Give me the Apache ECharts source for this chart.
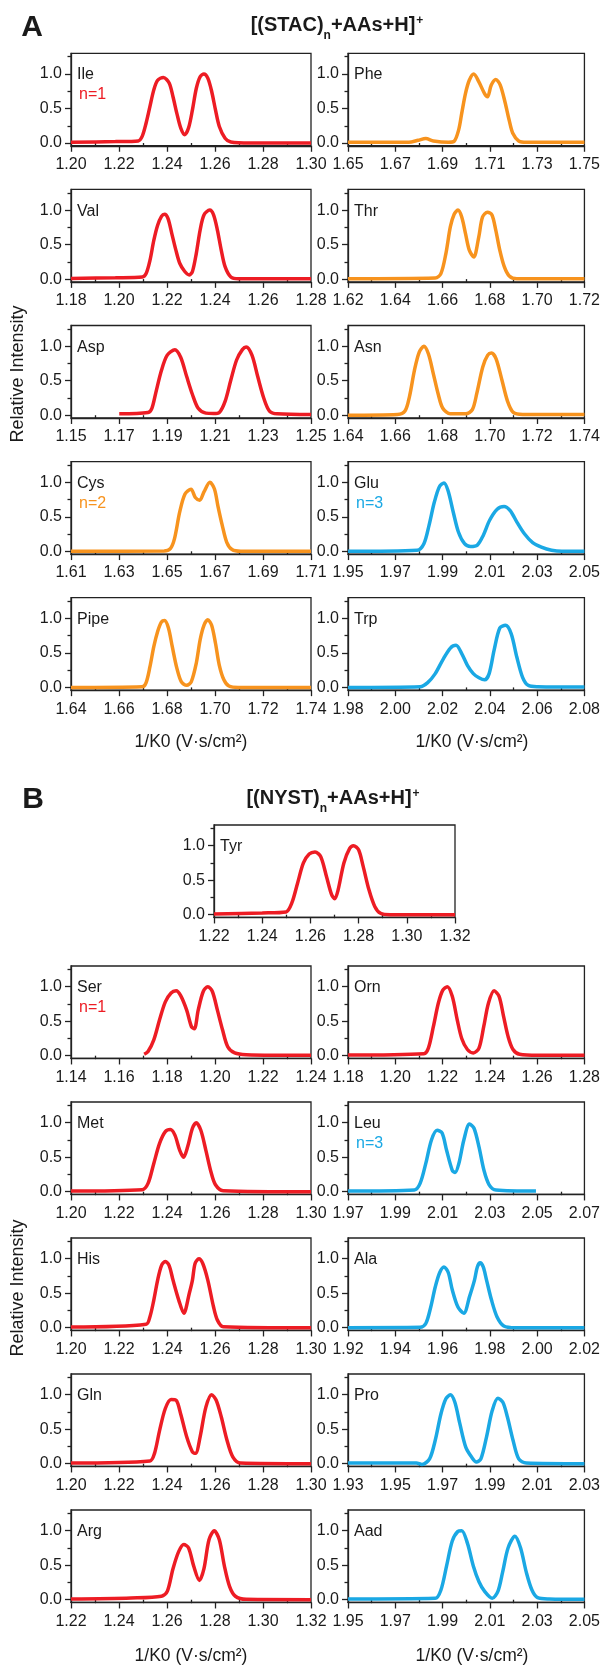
<!DOCTYPE html>
<html>
<head>
<meta charset="utf-8">
<script src="https://cdn.jsdelivr.net/npm/echarts@6/dist/echarts.min.js"></script>
<style>
html,body{margin:0;padding:0;background:#fff;}
#c{width:603px;height:1665px;}
</style>
</head>
<body>
<div id="c"></div>
<script>
// ---------- DATA (x = 1/K0, y = relative intensity) ----------
const ile = [[1.200,0.01],[1.2185,0.02],[1.228,0.03],[1.2297,0.10],[1.2313,0.29],[1.2329,0.53],[1.2345,0.77],[1.2361,0.91],[1.2385,0.95],[1.2409,0.87],[1.2425,0.67],[1.2441,0.43],[1.2457,0.22],[1.2474,0.12],[1.249,0.22],[1.2506,0.48],[1.2522,0.79],[1.2538,0.96],[1.2554,1.0],[1.257,0.94],[1.2586,0.75],[1.2602,0.48],[1.2618,0.24],[1.2642,0.07],[1.2666,0.015],[1.2746,0.0],[1.30,0.0]];
const phe = [[1.65,0.01],[1.6757,0.01],[1.6797,0.04],[1.6829,0.065],[1.6861,0.03],[1.6925,0.01],[1.6949,0.025],[1.6968,0.19],[1.6981,0.43],[1.6997,0.72],[1.7013,0.91],[1.7032,1.0],[1.7053,0.89],[1.7077,0.72],[1.709,0.67],[1.7106,0.84],[1.7125,0.92],[1.7144,0.84],[1.7165,0.58],[1.7181,0.34],[1.7197,0.14],[1.7222,0.03],[1.7254,0.01],[1.75,0.01]];
const val = [[1.18,0.01],[1.1985,0.02],[1.2097,0.03],[1.2113,0.08],[1.2129,0.27],[1.2145,0.56],[1.2161,0.78],[1.2177,0.91],[1.219,0.94],[1.2204,0.88],[1.222,0.66],[1.2237,0.42],[1.2253,0.23],[1.2274,0.11],[1.2293,0.06],[1.2306,0.11],[1.2322,0.37],[1.2338,0.71],[1.2354,0.93],[1.2378,1.0],[1.2394,0.93],[1.241,0.71],[1.2426,0.42],[1.2442,0.18],[1.2466,0.03],[1.2498,0.005],[1.28,0.005]];
const thr = [[1.62,0.005],[1.6569,0.015],[1.6593,0.08],[1.6614,0.37],[1.6633,0.76],[1.6649,0.94],[1.6665,1.0],[1.6681,0.90],[1.6697,0.66],[1.6713,0.42],[1.6732,0.32],[1.6753,0.61],[1.6769,0.90],[1.679,0.97],[1.6809,0.93],[1.6825,0.71],[1.6842,0.42],[1.6861,0.18],[1.6882,0.045],[1.6914,0.005],[1.72,0.005]];
const asp = [[1.1701,0.02],[1.1821,0.04],[1.1837,0.10],[1.1853,0.32],[1.1877,0.65],[1.1901,0.87],[1.1933,0.95],[1.1957,0.84],[1.1982,0.56],[1.2006,0.30],[1.203,0.10],[1.2062,0.03],[1.2094,0.025],[1.2118,0.04],[1.2142,0.20],[1.2166,0.51],[1.219,0.80],[1.2214,0.95],[1.223,0.99],[1.2254,0.87],[1.2278,0.56],[1.2303,0.25],[1.2327,0.06],[1.2359,0.02],[1.25,0.01]];
const asn = [[1.64,0.0],[1.6609,0.01],[1.6641,0.06],[1.666,0.27],[1.6681,0.65],[1.6701,0.91],[1.6721,1.0],[1.674,0.89],[1.6761,0.60],[1.6782,0.30],[1.6801,0.10],[1.6833,0.02],[1.6898,0.02],[1.6926,0.08],[1.6945,0.32],[1.697,0.70],[1.6991,0.87],[1.7007,0.90],[1.7026,0.82],[1.7051,0.51],[1.7075,0.20],[1.7099,0.04],[1.7139,0.01],[1.74,0.01]];
const cys = [[1.61,0.0],[1.6488,0.005],[1.6514,0.04],[1.6531,0.18],[1.6553,0.57],[1.6575,0.83],[1.66,0.90],[1.6618,0.78],[1.6636,0.74],[1.6654,0.86],[1.6679,1.0],[1.6698,0.90],[1.6712,0.66],[1.673,0.38],[1.6749,0.13],[1.6771,0.025],[1.6807,0.0],[1.71,0.0]];
const glu = [[1.95,0.0],[1.9792,0.015],[1.9821,0.11],[1.9843,0.38],[1.9865,0.71],[1.9887,0.94],[1.9906,0.99],[1.9923,0.88],[1.9945,0.57],[1.9967,0.28],[1.9993,0.11],[2.0018,0.07],[2.0047,0.09],[2.0072,0.23],[2.0099,0.45],[2.0131,0.61],[2.016,0.65],[2.0186,0.59],[2.0215,0.42],[2.0247,0.25],[2.0281,0.125],[2.0318,0.06],[2.0361,0.015],[2.0405,0.0],[2.05,0.0]];
const pipe = [[1.64,0.0],[1.6697,0.01],[1.6713,0.07],[1.6729,0.30],[1.6745,0.59],[1.6761,0.81],[1.6777,0.95],[1.679,0.97],[1.6806,0.86],[1.6822,0.59],[1.6841,0.28],[1.686,0.08],[1.6882,0.03],[1.6901,0.08],[1.6922,0.35],[1.6938,0.69],[1.6954,0.90],[1.697,0.98],[1.6986,0.90],[1.7002,0.64],[1.7018,0.32],[1.7037,0.11],[1.7058,0.02],[1.7098,0.0],[1.74,0.0]];
const trp = [[1.98,0.0],[2.0105,0.01],[2.0137,0.07],[2.0169,0.20],[2.0201,0.40],[2.0233,0.57],[2.0257,0.61],[2.0281,0.49],[2.0305,0.32],[2.033,0.20],[2.0354,0.14],[2.0378,0.11],[2.0397,0.20],[2.0418,0.54],[2.0442,0.86],[2.0466,0.90],[2.049,0.78],[2.0514,0.44],[2.0538,0.15],[2.0562,0.03],[2.0603,0.01],[2.08,0.005]];
const tyr = [[1.22,0.01],[1.24,0.025],[1.2499,0.04],[1.2523,0.17],[1.2547,0.46],[1.2571,0.75],[1.2595,0.88],[1.2619,0.91],[1.2643,0.84],[1.2667,0.55],[1.2688,0.29],[1.2701,0.23],[1.2715,0.36],[1.2739,0.75],[1.2763,0.96],[1.2779,1.0],[1.28,0.94],[1.2819,0.70],[1.2843,0.36],[1.2867,0.12],[1.2891,0.02],[1.2931,0.0],[1.32,0.0]];
const ser = [[1.1705,0.02],[1.1721,0.06],[1.1745,0.23],[1.1769,0.52],[1.1793,0.78],[1.1817,0.91],[1.1838,0.94],[1.1857,0.87],[1.1882,0.66],[1.1902,0.42],[1.1914,0.39],[1.193,0.66],[1.1951,0.93],[1.197,1.0],[1.1989,0.93],[1.201,0.66],[1.2031,0.38],[1.2053,0.13],[1.2082,0.04],[1.213,0.015],[1.24,0.005]];
const orn = [[1.18,0.01],[1.2121,0.03],[1.214,0.11],[1.2161,0.42],[1.2182,0.76],[1.2201,0.95],[1.222,1.0],[1.2241,0.86],[1.2262,0.52],[1.2281,0.25],[1.2305,0.09],[1.233,0.04],[1.2354,0.11],[1.2374,0.42],[1.2394,0.76],[1.2418,0.94],[1.2439,0.86],[1.2458,0.57],[1.2477,0.28],[1.2498,0.09],[1.2526,0.02],[1.2603,0.005],[1.28,0.005]];
const met = [[1.20,0.01],[1.2297,0.03],[1.2321,0.12],[1.2345,0.41],[1.2369,0.70],[1.2393,0.87],[1.2414,0.90],[1.2433,0.82],[1.2453,0.60],[1.2469,0.50],[1.2486,0.65],[1.2506,0.92],[1.2522,1.0],[1.2541,0.89],[1.2562,0.60],[1.2583,0.29],[1.2602,0.10],[1.2634,0.015],[1.30,0.0]];
const leu = [[1.97,0.01],[1.9981,0.025],[2.0005,0.12],[2.0029,0.41],[2.0053,0.75],[2.0077,0.89],[2.0098,0.85],[2.0117,0.60],[2.0141,0.31],[2.0153,0.28],[2.0169,0.41],[2.019,0.75],[2.0214,0.98],[2.0233,0.92],[2.0254,0.65],[2.0275,0.31],[2.0297,0.10],[2.0326,0.025],[2.0495,0.01]];
const his = [[1.20,0.01],[1.2313,0.05],[1.2329,0.16],[1.2345,0.40],[1.2361,0.69],[1.2377,0.90],[1.2393,0.96],[1.2409,0.90],[1.2425,0.69],[1.2449,0.40],[1.247,0.21],[1.2493,0.50],[1.2506,0.69],[1.2517,0.93],[1.2533,1.0],[1.2549,0.93],[1.257,0.69],[1.2594,0.30],[1.261,0.11],[1.2634,0.015],[1.30,0.0]];
const ala = [[1.92,0.0],[1.9505,0.005],[1.9529,0.06],[1.955,0.30],[1.9569,0.59],[1.9588,0.80],[1.9606,0.88],[1.9624,0.80],[1.9641,0.55],[1.9665,0.30],[1.969,0.21],[1.9714,0.45],[1.9735,0.69],[1.9747,0.88],[1.9759,0.94],[1.9772,0.88],[1.9786,0.69],[1.9807,0.40],[1.983,0.16],[1.9859,0.025],[1.9907,0.0],[2.02,0.0]];
const gln = [[1.20,0.01],[1.2329,0.04],[1.2348,0.15],[1.2369,0.48],[1.2393,0.80],[1.2417,0.93],[1.2438,0.92],[1.2457,0.72],[1.2482,0.39],[1.2506,0.17],[1.2519,0.15],[1.2538,0.39],[1.2562,0.82],[1.2586,1.0],[1.2605,0.92],[1.2626,0.68],[1.265,0.34],[1.2674,0.10],[1.2706,0.01],[1.30,0.0]];
const pro = [[1.93,0.01],[1.9589,0.01],[1.9613,-0.01],[1.9645,0.07],[1.9669,0.34],[1.9693,0.72],[1.9714,0.94],[1.9733,1.0],[1.9752,0.89],[1.9773,0.58],[1.9798,0.24],[1.9822,0.10],[1.9843,0.025],[1.9862,0.07],[1.9886,0.39],[1.991,0.77],[1.9934,0.95],[1.9955,0.89],[1.9974,0.68],[1.9998,0.34],[2.0022,0.07],[2.0054,0.01],[2.03,0.0]];
const arg = [[1.22,0.01],[1.245,0.025],[1.2577,0.05],[1.2601,0.12],[1.2625,0.45],[1.2649,0.70],[1.267,0.80],[1.269,0.75],[1.2711,0.49],[1.2735,0.28],[1.2754,0.45],[1.2775,0.87],[1.2797,1.0],[1.2818,0.87],[1.2839,0.49],[1.2861,0.19],[1.2885,0.05],[1.293,0.005],[1.32,0.0]];
const aad = [[1.95,0.01],[1.9869,0.02],[1.9893,0.14],[1.9917,0.49],[1.9941,0.85],[1.9965,0.99],[1.9981,1.0],[2.0005,0.82],[2.003,0.49],[2.0054,0.26],[2.0078,0.12],[2.011,0.02],[2.0134,0.12],[2.0154,0.40],[2.0177,0.75],[2.0206,0.92],[2.023,0.75],[2.0254,0.40],[2.0278,0.14],[2.0302,0.03],[2.0351,0.01],[2.05,0.005]];

// panel names, x-axis start values, charge-state labels
const names   = ['Ile','Phe','Val','Thr','Asp','Asn','Cys','Glu','Pipe','Trp','Tyr','Ser','Orn','Met','Leu','His','Ala','Gln','Pro','Arg','Aad'];
const curves  = [ile, phe, val, thr, asp, asn, cys, glu, pipe, trp, tyr, ser, orn, met, leu, his, ala, gln, pro, arg, aad];
const xStart  = [1.20,1.65,1.18,1.62,1.15,1.64,1.61,1.95,1.64,1.98,1.22,1.14,1.18,1.20,1.97,1.20,1.92,1.20,1.93,1.22,1.95];
const nLabel  = ['n=1','','','','','','n=2','n=3','','','','n=1','','','n=3','','','','','',''];
const colorKey= ['r','o','r','o','r','o','o','b','o','b','r','r','r','r','b','r','b','r','b','r','b'];
const yTicks  = [0, 0.5, 1.0];
const yMinor  = [0.25, 0.75, 1.25];
const xSpan = 0.10, xStep = 0.02;

// ---------- LAYOUT / STYLE ----------
const COLORS = {r:'#ED1C24', o:'#F7931E', b:'#1AA8E4'};
const colX = {L:71, R:348, C:214};
const W = 240;
const U = 69;          // px per 1.0 intensity
const layout = [
  ['L',74],['R',74],['L',210.1],['R',210.1],['L',346.2],['R',346.2],['L',482.3],['R',482.3],['L',618.4],['R',618.4],
  ['C',845.7],
  ['L',986.7],['R',986.7],['L',1122.7],['R',1122.7],['L',1258.7],['R',1258.7],['L',1394.7],['R',1394.7],['L',1530.7],['R',1530.7]
];
const FONT = '"Liberation Sans", Arial, Helvetica, sans-serif';
const INK = '#1a1a1a';
const TICKF = 16, LABF = 16;

const grids=[], xAxes=[], yAxes=[], seriesList=[], graphics=[];
names.forEach((nm,i)=>{
  const [col,y1] = layout[i];
  const left = colX[col], top = y1 - 0.30*U;
  grids.push({left:left, top:top, width:(col==='C'?241:W), height:1.34*U, show:true, borderColor:'#222', borderWidth:1.3, containLabel:false});
  const lo = xStart[i], hi = +(lo + xSpan).toFixed(2);
  const majors=[], minors=[];
  for(let k=0;k<=5;k++) majors.push(+(lo + k*xStep).toFixed(2));
  for(let k=0;k<5;k++) minors.push(+(lo + k*xStep + xStep/2).toFixed(3));
  xAxes.push({type:'value', gridIndex:i, min:lo, max:hi, position:'bottom',
    axisLine:{show:true, onZero:false, lineStyle:{color:'#222', width:1.3}},
    axisTick:{show:true, length:6, customValues:majors, lineStyle:{color:'#222', width:1.3}},
    axisLabel:{show:true, customValues:majors, formatter:v=>v.toFixed(2), fontSize:TICKF, color:INK, fontFamily:FONT, margin:11},
    splitLine:{show:false}});
  xAxes.push({type:'value', gridIndex:i, min:lo, max:hi, position:'bottom',
    axisLine:{show:false}, axisLabel:{show:false}, splitLine:{show:false},
    axisTick:{show:true, length:3.5, customValues:minors, lineStyle:{color:'#222', width:1.3}}});
  yAxes.push({type:'value', gridIndex:i, min:-0.04, max:1.3, position:'left',
    axisLine:{show:true, onZero:false, lineStyle:{color:'#222', width:1.3}},
    axisTick:{show:true, length:6, customValues:yTicks, lineStyle:{color:'#222', width:1.3}},
    axisLabel:{show:true, customValues:yTicks, formatter:v=>v.toFixed(1), fontSize:TICKF, color:INK, fontFamily:FONT, margin:9},
    splitLine:{show:false}});
  yAxes.push({type:'value', gridIndex:i, min:-0.04, max:1.3, position:'left',
    axisLine:{show:false}, axisLabel:{show:false}, splitLine:{show:false},
    axisTick:{show:true, length:3.5, customValues:yMinor, lineStyle:{color:'#222', width:1.3}}});
  const c = COLORS[colorKey[i]];
  seriesList.push({type:'line', xAxisIndex:2*i, yAxisIndex:2*i, data:curves[i], showSymbol:false, smooth:0.3,
    lineStyle:{color:c, width:3.5}, itemStyle:{color:c}, silent:true, animation:false, z:1});
  graphics.push({type:'text', x:left+6, y:y1+1, silent:true,
    style:{text:nm, fill:INK, fontSize:LABF, fontFamily:FONT, align:'left', verticalAlign:'middle', textAlign:'left', textVerticalAlign:'middle'}});
  if(nLabel[i]) graphics.push({type:'text', x:left+8, y:y1+21, silent:true,
    style:{text:nLabel[i], fill:c, fontSize:LABF, fontFamily:FONT, align:'left', verticalAlign:'middle', textAlign:'left', textVerticalAlign:'middle'}});
});

// panel letters & axis titles
const txt = (t,x,y,opt)=>Object.assign({type:'text', x:x, y:y, silent:true,
  style:Object.assign({text:t, fill:INK, fontFamily:FONT, fontSize:17, align:'center', verticalAlign:'middle', textAlign:'center', textVerticalAlign:'middle'}, opt||{})});
graphics.push(txt('A', 32, 28, {fontSize:30, fontWeight:'bold'}));
graphics.push(txt('B', 33, 800, {fontSize:30, fontWeight:'bold'}));
graphics.push(Object.assign(txt('Relative Intensity', 18, 374, {fontSize:18}), {rotation:Math.PI/2}));
graphics.push(Object.assign(txt('Relative Intensity', 18, 1288, {fontSize:18}), {rotation:Math.PI/2}));
graphics.push(txt('1/K0 (V·s/cm²)', 191, 742, {fontSize:17.5}));
graphics.push(txt('1/K0 (V·s/cm²)', 472, 742, {fontSize:17.5}));
graphics.push(txt('1/K0 (V·s/cm²)', 191, 1656, {fontSize:17.5}));
graphics.push(txt('1/K0 (V·s/cm²)', 472, 1656, {fontSize:17.5}));

const rich = {
  m:{fontSize:20, fontWeight:'bold', fontFamily:FONT, color:INK, lineHeight:22, verticalAlign:'top'},
  s:{fontSize:12, fontWeight:'bold', fontFamily:FONT, color:INK, lineHeight:12, verticalAlign:'top', padding:[15,0,0,0]},
  p:{fontSize:12, fontWeight:'bold', fontFamily:FONT, color:INK, lineHeight:12, verticalAlign:'top', padding:[0,0,0,1]}
};
const titles = [
  {text:'{m|[(STAC)}{s|n}{m|+AAs+H]}{p|+}', left:332, top:10, textAlign:'center', textStyle:{rich:rich}},
  {text:'{m|[(NYST)}{s|n}{m|+AAs+H]}{p|+}', left:328, top:783, textAlign:'center', textStyle:{rich:rich}}
];

const chart = echarts.init(document.getElementById('c'), null, {renderer:'canvas'});
chart.setOption({
  animation:false,
  backgroundColor:'#fff',
  title:titles,
  grid:grids, xAxis:xAxes, yAxis:yAxes, series:seriesList, graphic:graphics
});
</script>
</body>
</html>
